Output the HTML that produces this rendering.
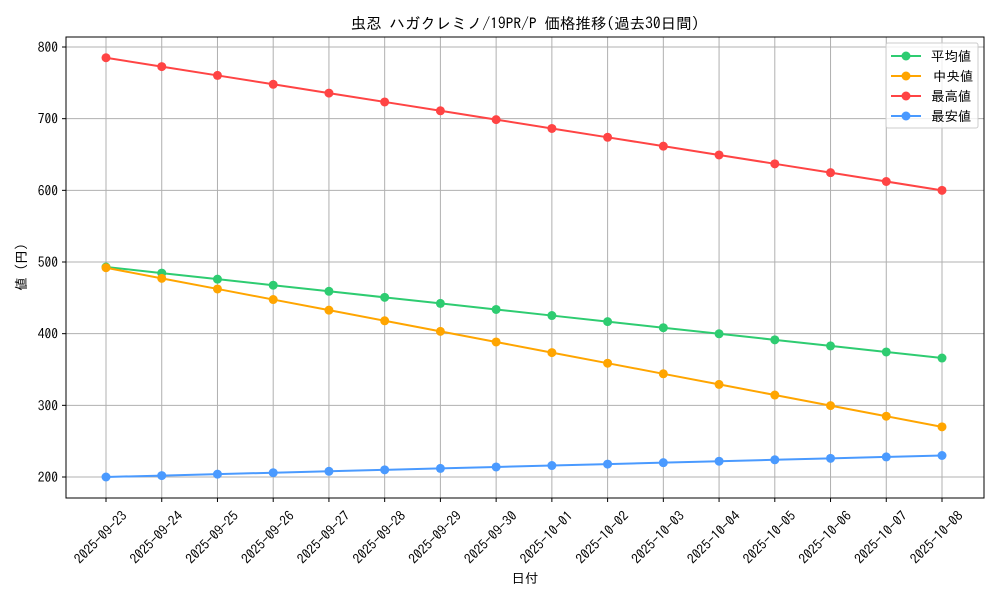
<!DOCTYPE html>
<html><head><meta charset="utf-8"><style>
body{margin:0;background:#fff}
svg text{font-family:"IPAGothic","Noto Sans CJK JP",sans-serif;font-size:13.5px;fill:#000}
</style></head><body>
<svg id="s" width="1000" height="600" xmlns="http://www.w3.org/2000/svg"></svg>
<script>
const s=document.getElementById('s');
const L=66,R=984,T=37,B=498;
const X=i=>106+i*(836/15), Y=v=>47+(800-v)*0.71667;
let h='<rect x="0" y="0" width="1000" height="600" fill="#fff"/>';
const dates=[];
for(let i=0;i<16;i++){const d=new Date(Date.UTC(2025,8,23+i));dates.push(d.toISOString().slice(0,10));}
for(let i=0;i<16;i++){const x=X(i);h+=`<line x1="${x}" y1="${T}" x2="${x}" y2="${B}" stroke="#b0b0b0" stroke-width="1"/>`;
h+=`<line x1="${x}" y1="${B}" x2="${x}" y2="${B+4}" stroke="#000" stroke-width="1"/>`;
h+=`<text transform="translate(${x+15},${B+12}) rotate(-45)" text-anchor="end" dominant-baseline="hanging">${dates[i]}</text>`;}
for(let v=200;v<=800;v+=100){const y=Y(v);h+=`<line x1="${L}" y1="${y}" x2="${R}" y2="${y}" stroke="#b0b0b0" stroke-width="1"/>`;
h+=`<line x1="${L-4}" y1="${y}" x2="${L}" y2="${y}" stroke="#000" stroke-width="1"/>`;
h+=`<text x="${L-8}" y="${y+5}" text-anchor="end">${v}</text>`;}
const ser=[["#2ecc71",493,366],["#ffa500",492,270],["#ff4444",785,600],["#4a9aff",200,230]];
for(const [c,a,b] of ser){let p=[];for(let i=0;i<16;i++)p.push(X(i)+','+Y(a+(b-a)*i/15));
h+=`<polyline points="${p.join(' ')}" fill="none" stroke="${c}" stroke-width="2"/>`;
for(const q of p){const [x,y]=q.split(',');h+=`<circle cx="${x}" cy="${y}" r="4.5" fill="${c}"/>`;}}
h+=`<rect x="${L}" y="${T}" width="${R-L}" height="${B-T}" fill="none" stroke="#000" stroke-width="1"/>`;
h+=`<text x="525" y="29" text-anchor="middle" style="font-size:15.5px">虫忍 ハガクレミノ/19PR/P 価格推移(過去30日間)</text>`;
h+=`<text x="525" y="583" text-anchor="middle">日付</text>`;
h+=`<text transform="translate(26,267) rotate(-90)" text-anchor="middle">値 (円)</text>`;
h+=`<rect x="886" y="43" width="92" height="85" rx="2" fill="#fff" fill-opacity="0.8" stroke="#ccc" stroke-width="1"/>`;
const lab=["平均値","中央値","最高値","最安値"];
for(let i=0;i<4;i++){const y=56+i*20;const c=ser[i][0];
h+=`<line x1="891" y1="${y}" x2="921" y2="${y}" stroke="${c}" stroke-width="2"/><circle cx="906" cy="${y}" r="4.5" fill="${c}"/>`;
h+=`<text x="${i==1?933:931}" y="${y+5}">${lab[i]}</text>`;}
s.innerHTML=h;
</script>
</body></html>
